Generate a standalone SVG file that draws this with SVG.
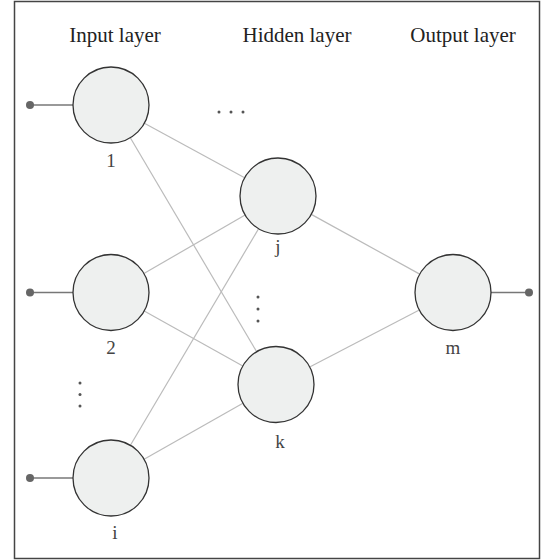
<svg xmlns="http://www.w3.org/2000/svg" width="541" height="560" viewBox="0 0 541 560">
<style>
.node{fill:#eef0ef;stroke:#333;stroke-width:1.3}
.edge{stroke:#bbb;stroke-width:1.2;fill:none}
.io{stroke:#777;stroke-width:1.6}
.pin{fill:#666}
.dot{fill:#555}
.title{font-family:"Liberation Serif",serif;font-size:21px;fill:#222;text-anchor:middle}
.lbl{font-family:"Liberation Serif",serif;font-size:19px;fill:#444;text-anchor:middle}
</style>
<rect x="0" y="0" width="541" height="560" fill="#fff"/>
<rect x="14.5" y="1.5" width="525" height="557" fill="none" stroke="#444" stroke-width="1.5"/>
<text class="title" x="115" y="42">Input layer</text>
<text class="title" x="297" y="42">Hidden layer</text>
<text class="title" x="463" y="42">Output layer</text>
<g id="connectors">
<line class="edge" x1="144.4" y1="123.2" x2="244.6" y2="177.8"/>
<line class="edge" x1="130.3" y1="137.7" x2="256.7" y2="351.8"/>
<line class="edge" x1="143.9" y1="273.5" x2="245.1" y2="215"/>
<line class="edge" x1="144.2" y1="311" x2="242.8" y2="366"/>
<line class="edge" x1="130.4" y1="445.3" x2="258.6" y2="228.7"/>
<line class="edge" x1="144.1" y1="459.3" x2="242.9" y2="403.2"/>
<line class="edge" x1="311.3" y1="214.4" x2="419.7" y2="274.1"/>
<line class="edge" x1="309.7" y1="367" x2="419.3" y2="310"/>
<line class="io" x1="30" y1="105" x2="73" y2="105"/>
<line class="io" x1="30" y1="292.5" x2="73" y2="292.5"/>
<line class="io" x1="30" y1="478" x2="73" y2="478"/>
<line class="io" x1="491" y1="292.5" x2="529" y2="292.5"/>
<circle class="pin" cx="30" cy="105" r="4"/>
<circle class="pin" cx="30" cy="292.5" r="4"/>
<circle class="pin" cx="30" cy="478" r="4"/>
<circle class="pin" cx="529" cy="292.5" r="4"/>
</g>
<g id="node-1"><circle class="node" cx="111" cy="105" r="38"/><text class="lbl" x="111" y="167">1</text></g>
<g id="node-2"><circle class="node" cx="111" cy="292.5" r="38"/><text class="lbl" x="111" y="354">2</text></g>
<g id="node-i"><circle class="node" cx="111" cy="478" r="38"/><text class="lbl" x="115" y="539">i</text></g>
<g id="node-j"><circle class="node" cx="278" cy="196" r="38"/><text class="lbl" x="278" y="253">j</text></g>
<g id="node-k"><circle class="node" cx="276" cy="384.5" r="38"/><text class="lbl" x="280" y="448">k</text></g>
<g id="node-m"><circle class="node" cx="453" cy="292.5" r="38"/><text class="lbl" x="453" y="354">m</text></g>
<g id="ellipses">
<circle class="dot" cx="219" cy="112" r="1.5"/><circle class="dot" cx="231" cy="112" r="1.5"/><circle class="dot" cx="243" cy="112" r="1.5"/>
<circle class="dot" cx="258" cy="297" r="1.5"/><circle class="dot" cx="258" cy="309" r="1.5"/><circle class="dot" cx="258" cy="321" r="1.5"/>
<circle class="dot" cx="80" cy="383" r="1.5"/><circle class="dot" cx="80" cy="394.5" r="1.5"/><circle class="dot" cx="80" cy="406" r="1.5"/>
</g>
</svg>
